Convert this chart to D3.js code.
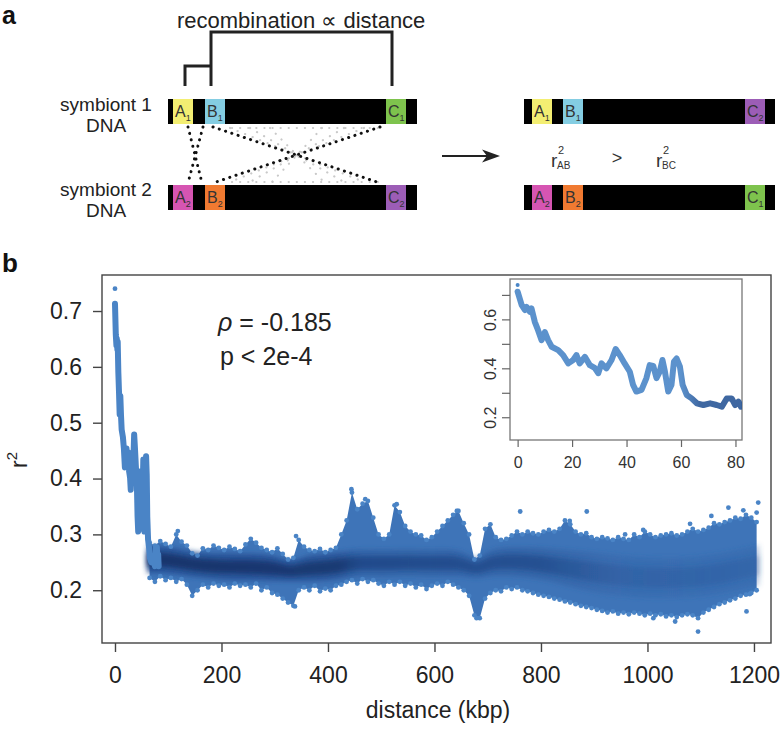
<!DOCTYPE html>
<html><head><meta charset="utf-8">
<script src="https://cdn.jsdelivr.net/npm/d3@7"></script>
<style>body{margin:0;background:#fff;} svg{display:block;font-family:"Liberation Sans",Arial,Helvetica,sans-serif;}</style>
</head><body><svg id="c" width="781" height="731"></svg>
<script>
// ---------------- data ----------------
const xTicks = [0, 200, 400, 600, 800, 1000, 1200];
const yTicks = [0.2, 0.3, 0.4, 0.5, 0.6, 0.7];
const insetXTicks = [0, 20, 40, 60, 80];
const insetYTicks = [0.2, 0.3, 0.4, 0.5, 0.6, 0.7];
const insetYLabels = [0.2, 0.4, 0.6];

// short-distance r2 (also shown in the inset)
const peakKbp = [0];
const peakR2 = [0.74];
const nearKbp = [0, 1.5, 2.7, 3.3, 4.5, 5.1, 6.3, 7.5, 8.8, 10, 11.2, 12.5, 14.9, 16.7, 18.6, 20.4, 21.6, 22.8, 24.7, 26.5, 28.3, 29.6, 30.8, 32.6, 34.5, 36, 37.5, 39.3, 41.2, 42.4, 43.6, 45.5, 47.3, 48.5, 49.8, 51, 52.2, 53.2, 54.1, 55.3, 56.5, 57.4, 58.4, 59.6, 60.6, 62.1, 63.9, 65.8, 68.2, 70.7, 73.1, 75, 76.8, 78.6, 79.9, 81.1, 82];
const nearR2 = [0.713, 0.658, 0.638, 0.651, 0.631, 0.645, 0.590, 0.556, 0.515, 0.548, 0.515, 0.488, 0.474, 0.454, 0.420, 0.434, 0.454, 0.420, 0.447, 0.413, 0.402, 0.380, 0.420, 0.400, 0.434, 0.479, 0.454, 0.420, 0.386, 0.332, 0.305, 0.312, 0.360, 0.413, 0.410, 0.360, 0.386, 0.434, 0.386, 0.305, 0.332, 0.427, 0.440, 0.407, 0.332, 0.291, 0.277, 0.257, 0.250, 0.257, 0.250, 0.243, 0.277, 0.277, 0.250, 0.264, 0.243];

// scatter envelope per 10-kbp bin (upper / lower extent of the point cloud)
const bandKbp = [65,75,85,95,105,115,125,135,145,155,165,175,185,195,205,215,225,235,245,255,265,275,285,295,305,315,325,335,345,355,365,375,385,395,405,415,425,435,445,455,465,475,485,495,505,515,525,535,545,555,565,575,585,595,605,615,625,635,645,655,665,675,685,695,705,715,725,735,745,755,765,775,785,795,805,815,825,835,845,855,865,875,885,895,905,915,925,935,945,955,965,975,985,995,1005,1015,1025,1035,1045,1055,1065,1075,1085,1095,1105,1115,1125,1135,1145,1155,1165,1175,1185,1195,1205];
const bandHi = [0.285,0.280,0.288,0.283,0.278,0.300,0.287,0.280,0.266,0.262,0.275,0.272,0.280,0.276,0.272,0.278,0.274,0.270,0.282,0.292,0.285,0.276,0.272,0.268,0.275,0.265,0.255,0.258,0.290,0.278,0.272,0.270,0.274,0.268,0.272,0.276,0.300,0.325,0.375,0.345,0.355,0.360,0.330,0.300,0.292,0.300,0.352,0.340,0.315,0.305,0.300,0.298,0.290,0.295,0.305,0.315,0.325,0.335,0.342,0.320,0.300,0.255,0.262,0.310,0.318,0.295,0.290,0.292,0.298,0.305,0.300,0.305,0.302,0.300,0.305,0.308,0.305,0.310,0.325,0.318,0.305,0.300,0.302,0.295,0.292,0.295,0.293,0.290,0.295,0.292,0.290,0.300,0.295,0.305,0.300,0.295,0.298,0.300,0.302,0.298,0.300,0.305,0.310,0.305,0.308,0.312,0.320,0.318,0.322,0.325,0.330,0.328,0.335,0.330,0.322];
const bandLo = [0.222,0.215,0.225,0.218,0.222,0.215,0.220,0.210,0.190,0.200,0.210,0.205,0.212,0.208,0.210,0.205,0.212,0.208,0.210,0.205,0.212,0.200,0.205,0.195,0.192,0.185,0.178,0.172,0.200,0.205,0.200,0.208,0.198,0.203,0.200,0.208,0.210,0.215,0.218,0.212,0.220,0.215,0.218,0.212,0.208,0.215,0.210,0.215,0.208,0.212,0.205,0.210,0.202,0.208,0.212,0.208,0.215,0.210,0.205,0.200,0.190,0.155,0.150,0.185,0.195,0.200,0.198,0.205,0.202,0.205,0.200,0.198,0.195,0.192,0.190,0.188,0.185,0.183,0.180,0.178,0.175,0.172,0.170,0.168,0.165,0.163,0.160,0.162,0.158,0.160,0.157,0.160,0.158,0.155,0.158,0.155,0.157,0.153,0.155,0.152,0.155,0.157,0.155,0.150,0.160,0.165,0.170,0.175,0.178,0.182,0.185,0.190,0.192,0.195,0.200];

// dense core of the cloud
const coreKbp = [60,100,150,200,250,300,330,360,400,450,500,550,600,650,680,700,750,800,850,900,950,1000,1050,1100,1150,1210];
const coreMid = [0.255,0.255,0.245,0.242,0.242,0.240,0.232,0.240,0.240,0.250,0.248,0.250,0.248,0.250,0.235,0.250,0.252,0.248,0.240,0.232,0.226,0.222,0.222,0.224,0.232,0.245];
const coreHalf = [0.012,0.012,0.011,0.012,0.012,0.012,0.008,0.012,0.012,0.012,0.012,0.012,0.012,0.012,0.008,0.012,0.013,0.014,0.016,0.018,0.018,0.018,0.018,0.018,0.018,0.018];

// isolated points outside the envelope
const outKbp = [118, 340, 444, 470, 529, 642, 761, 854, 886, 958, 992, 1080, 1120, 1152, 1180, 1205, 1208, 338, 679, 1011, 1052, 1095, 1186, 1192];
const outR2 = [0.306, 0.297, 0.381, 0.363, 0.354, 0.342, 0.341, 0.324, 0.341, 0.300, 0.308, 0.319, 0.333, 0.348, 0.343, 0.339, 0.357, 0.171, 0.150, 0.150, 0.144, 0.126, 0.162, 0.193];

// ---------------- drawing ----------------
const svg = d3.select("#c");
const defs = svg.append("defs");
defs.append("filter").attr("id","blur").attr("x","-10%").attr("y","-50%").attr("width","120%").attr("height","200%")
  .append("feGaussianBlur").attr("stdDeviation", 2.6);

const ink = "#333";

// ===== panel a =====
const A = svg.append("g");
A.append("text").attr("x",2).attr("y",24).attr("font-size",25).attr("font-weight","bold").attr("fill","#111").text("a");
A.append("text").attr("x",177).attr("y",28).attr("font-size",22).attr("fill","#222").text("recombination \u221D distance");
// brackets
A.append("path").attr("d","M211,86 V32 H392 V86").attr("fill","none").attr("stroke","#222").attr("stroke-width",3);
A.append("path").attr("d","M185,86 V66 H211").attr("fill","none").attr("stroke","#222").attr("stroke-width",3);

// symbiont labels
[["symbiont 1",111,132],["symbiont 2",196,217]].forEach(([t,y1,y2])=>{
  A.append("text").attr("x",106).attr("y",y1).attr("text-anchor","middle").attr("font-size",19).attr("fill","#222").text(t);
  A.append("text").attr("x",106).attr("y",y2).attr("text-anchor","middle").attr("font-size",19).attr("fill","#222").text("DNA");
});

const col = {A1:"#f3ee72", B1:"#84cde2", C1:"#7ec34d", A2:"#d655b2", B2:"#f07a31", C2:"#9c5db6"};
function bar(x0,x1,y0,segs){
  A.append("rect").attr("x",x0).attr("y",y0).attr("width",x1-x0).attr("height",25).attr("fill","#000");
  segs.forEach(([a,b,key])=>{
    A.append("rect").attr("x",a).attr("y",y0).attr("width",b-a).attr("height",25).attr("fill",col[key]);
    const t = A.append("text").attr("x",a+2).attr("y",y0+18).attr("font-size",16).attr("fill","#333").text(key[0]);
    t.append("tspan").attr("font-size",9).attr("dy",4).text(key[1]);
  });
}
bar(168,417,99,[[173,193,"A1"],[205,225,"B1"],[386,406,"C1"]]);
bar(168,417,185,[[173,193,"A2"],[205,225,"B2"],[386,406,"C2"]]);
bar(524,775,99,[[532,552,"A1"],[563,583,"B1"],[745,765,"C2"]]);
bar(524,775,185,[[532,552,"A2"],[563,583,"B2"],[745,765,"C1"]]);

// faint grey dotted fan
const grey = A.append("g").attr("stroke","#c9c9c9").attr("stroke-width",2.2).attr("stroke-linecap","round").attr("stroke-dasharray","0.1 8").attr("fill","none");
[230,250,270,322,344,364].forEach(xt=>{
  grey.append("line").attr("x1",xt).attr("y1",128).attr("x2",594-xt).attr("y2",182);
});
grey.append("line").attr("x1",232).attr("y1",128).attr("x2",378).attr("y2",128);
grey.append("line").attr("x1",232).attr("y1",182).attr("x2",378).attr("y2",182);
// black dotted crossings
const dots = A.append("g").attr("stroke","#111").attr("stroke-width",3).attr("stroke-linecap","round").attr("stroke-dasharray","0.1 6.5").attr("fill","none");
dots.append("line").attr("x1",188).attr("y1",127).attr("x2",202).attr("y2",183);
dots.append("line").attr("x1",203).attr("y1",127).attr("x2",188).attr("y2",183);
dots.append("line").attr("x1",213).attr("y1",127).attr("x2",380).attr("y2",183);
dots.append("line").attr("x1",380).attr("y1",127).attr("x2",213).attr("y2",183);

// arrow
A.append("line").attr("x1",442).attr("y1",156).attr("x2",492).attr("y2",156).attr("stroke","#222").attr("stroke-width",2);
A.append("path").attr("d","M500,156 L482,149.5 L487,156 L482,162.5 Z").attr("fill","#222");

// r2 comparison
function rsq(x,sub){
  A.append("text").attr("x",x).attr("y",167).attr("font-size",19).attr("fill",ink).text("r");
  A.append("text").attr("x",x+7).attr("y",154).attr("font-size",11).attr("fill",ink).text("2");
  A.append("text").attr("x",x+6).attr("y",169).attr("font-size",10).attr("fill",ink).text(sub);
}
rsq(551,"AB");
rsq(656,"BC");
A.append("text").attr("x",617).attr("y",164).attr("text-anchor","middle").attr("font-size",18).attr("fill",ink).text(">");

// ===== panel b =====
svg.append("text").attr("x",2).attr("y",272).attr("font-size",26).attr("font-weight","bold").attr("fill","#111").text("b");

const x = d3.scaleLinear().domain([-24.4, 1232]).range([102, 771]);
const y = d3.scaleLinear().domain([0.1055, 0.7645]).range([643, 275]);

const P = svg.append("g");
defs.append("clipPath").attr("id","mainclip").append("rect").attr("x",102).attr("y",275).attr("width",669).attr("height",368);
const plot = P.append("g").attr("clip-path","url(#mainclip)");

const band = bandKbp.map((k,i)=>({k, hi:bandHi[i], lo:bandLo[i]}));
const core = coreKbp.map((k,i)=>({k, m:coreMid[i], h:coreHalf[i]}));

plot.append("path").datum(band)
  .attr("d", d3.area().x(d=>x(d.k)).y0(d=>y(d.lo)).y1(d=>y(d.hi)))
  .attr("fill","#3e74b8");

// core gradient (darkness of the cloud along distance)
const gO = defs.append("linearGradient").attr("id","coreOuter").attr("gradientUnits","userSpaceOnUse")
  .attr("x1",x(60)).attr("x2",x(1210)).attr("y1",0).attr("y2",0);
[[60,"#244f93",0.85],[420,"#244f93",0.8],[460,"#2a5699",0.55],[800,"#2a5699",0.5],[950,"#2f5fa3",0.35],[1210,"#2f5fa3",0.3]]
  .forEach(([k,c,o])=>gO.append("stop").attr("offset",(k-60)/1150).attr("stop-color",c).attr("stop-opacity",o));
const gI = defs.append("linearGradient").attr("id","coreInner").attr("gradientUnits","userSpaceOnUse")
  .attr("x1",x(60)).attr("x2",x(1210)).attr("y1",0).attr("y2",0);
[[60,"#143369",0.95],[420,"#163770",0.9],[460,"#1c4282",0.75],[800,"#1e4686",0.65],[950,"#2a579b",0.45],[1210,"#2a579b",0.35]]
  .forEach(([k,c,o])=>gI.append("stop").attr("offset",(k-60)/1150).attr("stop-color",c).attr("stop-opacity",o));

plot.append("path").datum(core)
  .attr("d", d3.area().curve(d3.curveBasis).x(d=>x(d.k)).y0(d=>y(d.m - 2*d.h)).y1(d=>y(d.m + 2*d.h)))
  .attr("fill","url(#coreOuter)").attr("filter","url(#blur)");
plot.append("path").datum(core)
  .attr("d", d3.area().curve(d3.curveBasis).x(d=>x(d.k)).y0(d=>y(d.m - d.h)).y1(d=>y(d.m + d.h)))
  .attr("fill","url(#coreInner)").attr("filter","url(#blur)");

// speckled envelope edges
const pc = "#4a84c6";
plot.selectAll("circle.hi").data(band).join("circle").attr("class","hi")
  .attr("cx",d=>x(d.k)).attr("cy",d=>y(d.hi)).attr("r",2.4).attr("fill",pc);
plot.selectAll("circle.lo").data(band).join("circle").attr("class","lo")
  .attr("cx",d=>x(d.k)).attr("cy",d=>y(d.lo)).attr("r",2.4).attr("fill",pc);
plot.selectAll("circle.out").data(outKbp.map((k,i)=>({k,v:outR2[i]}))).join("circle").attr("class","out")
  .attr("cx",d=>x(d.k)).attr("cy",d=>y(d.v)).attr("r",2.4).attr("fill",pc);

// short-distance decay
const near = nearKbp.map((k,i)=>({k, v:nearR2[i]}));
plot.append("path").datum(near)
  .attr("d", d3.line().x(d=>x(d.k)).y(d=>y(d.v)))
  .attr("fill","none").attr("stroke","#4a84c6").attr("stroke-width",6).attr("stroke-linejoin","round").attr("stroke-linecap","round");
plot.selectAll("circle.peak").data(peakKbp.map((k,i)=>({k,v:peakR2[i]}))).join("circle").attr("class","peak")
  .attr("cx",d=>x(d.k)).attr("cy",d=>y(d.v)).attr("r",2.4).attr("fill",pc);

// frame and axes
P.append("rect").attr("x",102).attr("y",275).attr("width",669).attr("height",368)
  .attr("fill","none").attr("stroke","#444").attr("stroke-width",1.4);

const xAxis = P.append("g").attr("transform","translate(0,643)")
  .call(d3.axisBottom(x).tickValues(xTicks).tickSize(9).tickPadding(15).tickFormat(d3.format("d")));
const yAxis = P.append("g").attr("transform","translate(102,0)")
  .call(d3.axisLeft(y).tickValues(yTicks).tickSize(9).tickPadding(11).tickFormat(d3.format(".1f")));
[xAxis, yAxis].forEach(g=>{
  g.select(".domain").remove();
  g.selectAll("line").attr("stroke","#444").attr("stroke-width",1.4);
  g.selectAll("text").attr("font-size",23).attr("fill","#222").attr("font-family","'Liberation Sans',Arial,sans-serif");
});

P.append("text").attr("x",438).attr("y",718).attr("text-anchor","middle").attr("font-size",23).attr("fill","#222").text("distance (kbp)");
const yl = P.append("text").attr("transform","translate(27,460) rotate(-90)").attr("text-anchor","middle").attr("font-size",23).attr("fill","#222");
yl.append("tspan").text("r");
yl.append("tspan").attr("font-size",15).attr("dy",-10).text("2");

const st = P.append("text").attr("x",218).attr("y",331).attr("font-size",25).attr("fill","#222");
st.append("tspan").attr("font-style","italic").text("\u03C1");
st.append("tspan").text(" = -0.185");
P.append("text").attr("x",220).attr("y",365).attr("font-size",25).attr("fill","#222").text("p < 2e-4");

// ===== inset =====
const xi = d3.scaleLinear().domain([-2.8, 82.4]).range([510, 742]);
const yi = d3.scaleLinear().domain([0.107, 0.765]).range([440, 279]);
const I = svg.append("g");
I.append("rect").attr("x",510).attr("y",279).attr("width",232).attr("height",161)
  .attr("fill","#fff").attr("stroke","#777").attr("stroke-width",1.3);
defs.append("clipPath").attr("id","insclip").append("rect").attr("x",510).attr("y",279).attr("width",232).attr("height",161);
const ig = defs.append("linearGradient").attr("id","insGrad").attr("gradientUnits","userSpaceOnUse")
  .attr("x1",xi(60)).attr("x2",xi(67)).attr("y1",0).attr("y2",0);
ig.append("stop").attr("offset",0).attr("stop-color","#4a86c7");
ig.append("stop").attr("offset",1).attr("stop-color","#2a5797");
const ip = I.append("g").attr("clip-path","url(#insclip)");
ip.append("path").datum(near)
  .attr("d", d3.line().x(d=>xi(d.k)).y(d=>yi(d.v)))
  .attr("fill","none").attr("stroke","url(#insGrad)").attr("stroke-width",6).attr("stroke-linejoin","round").attr("stroke-linecap","round").attr("stroke-opacity",0.9);
ip.selectAll("circle.ipk").data(peakKbp.map((k,i)=>({k,v:peakR2[i]}))).join("circle").attr("class","ipk")
  .attr("cx",d=>xi(d.k)).attr("cy",d=>yi(d.v)).attr("r",2).attr("fill","#4a86c7");

const ixa = I.append("g").attr("transform","translate(0,440)")
  .call(d3.axisBottom(xi).tickValues(insetXTicks).tickSize(7).tickPadding(10).tickFormat(d3.format("d")));
const iya = I.append("g").attr("transform","translate(510,0)")
  .call(d3.axisLeft(yi).tickValues(insetYTicks).tickSize(8).tickFormat(d=> insetYLabels.some(v=>Math.abs(v-d)<1e-9) ? d3.format(".1f")(d) : ""));
[ixa, iya].forEach(g=>{
  g.select(".domain").remove();
  g.selectAll("line").attr("stroke","#666").attr("stroke-width",1.2);
  g.selectAll("text").attr("font-size",16).attr("fill","#333").attr("font-family","'Liberation Sans',Arial,sans-serif");
});
iya.selectAll("text").attr("transform","rotate(-90)").attr("x",0).attr("y",-14).attr("dy",0).attr("text-anchor","middle");
</script></body></html>
